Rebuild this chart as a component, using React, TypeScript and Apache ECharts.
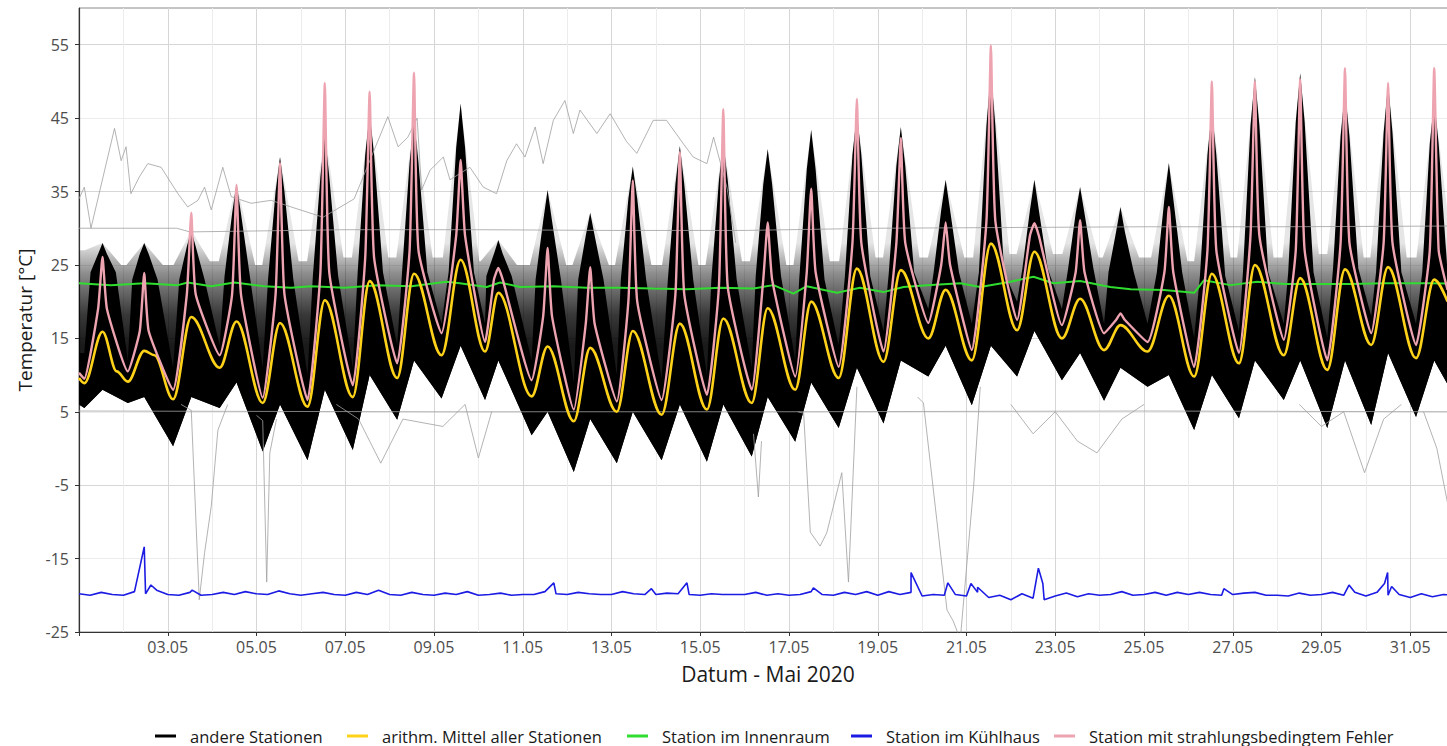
import React, { useEffect, useRef } from 'react';
import * as echarts from 'echarts';

// x = days since 01.05.2020 00:00
const peakTimes = [0.53, 1.47, 2.53, 3.55, 4.53, 5.54, 6.55, 7.55, 8.6, 9.45, 10.56, 11.52, 12.48, 13.54, 14.52, 15.52, 16.5, 17.53, 18.52, 19.53, 20.55, 21.53, 22.56, 23.47, 24.56, 25.53, 26.5, 27.52, 28.53, 29.5, 30.54];
const lowTimes = [0.12, 1.1, 2.12, 3.17, 4.14, 5.15, 6.17, 7.17, 8.17, 9.15, 10.2, 11.15, 12.12, 13.13, 14.15, 15.16, 16.14, 17.12, 18.13, 19.14, 20.12, 21.14, 22.15, 23.1, 24.08, 25.13, 26.14, 27.15, 28.13, 29.12, 30.13];

// arithm. Mittel
const meanLow = [8.9, 9.1, 6.7, 11.0, 6.2, 5.7, 7.0, 9.6, 12.7, 13.2, 7.1, 3.7, 5.0, 4.6, 5.3, 6.2, 8.0, 9.6, 11.8, 15.0, 12.0, 16.1, 15.0, 13.4, 13.2, 9.8, 11.6, 12.7, 10.7, 14.1, 12.3];
const meanPeak = [15.9, 13.3, 17.9, 17.3, 17.1, 20.2, 22.8, 23.8, 25.7, 21.2, 13.9, 13.7, 16.0, 17.0, 17.7, 19.1, 20.0, 24.5, 24.3, 21.6, 27.9, 26.8, 20.4, 16.8, 20.8, 23.8, 25.0, 23.2, 24.4, 24.7, 23.0];
const meanExtra = [[0, 9.6], [0.85, 10.5], [1.7, 12.7], [30.84, 20.0]];

// Station mit strahlungsbedingtem Fehler
const errLow = [9.5, 10.5, 8.0, 12.7, 6.9, 6.6, 8.6, 11.6, 15.7, 14.5, 9.3, 5.3, 6.4, 6.6, 7.3, 8.0, 9.8, 11.1, 13.2, 17.1, 13.4, 17.5, 16.8, 15.7, 14.5, 11.1, 13.0, 14.8, 12.0, 15.7, 14.1];
const errShoulder = [19, 16, 21, 21, 21, 24, 26, 27, 29, 23, 18, 17, 20, 21, 22, 23, 24, 28, 28, 25, 31, 29, 24, 17.5, 24, 27, 29, 27, 28, 28, 27];
const errPeak = [26.1, 23.9, 32.1, 35.9, 38.9, 49.8, 48.6, 51.2, 39.3, 24.6, 27.3, 24.7, 36.5, 40.4, 46.2, 30.8, 35.4, 47.6, 42.3, 30.8, 54.9, 30.7, 31.1, 18.4, 32.9, 50.0, 50.0, 50.3, 51.8, 49.8, 51.8];
const errEnds = [[0, 10.3], [30.84, 21.6]];

// andere Stationen: envelope of the dense bundle
const bandPeak = [28.0, 28.0, 29.7, 36.1, 39.7, 42.9, 45.6, 44.7, 47.0, 28.4, 35.2, 32.1, 38.4, 41.2, 41.7, 40.8, 43.4, 45.6, 43.8, 36.6, 51.3, 36.6, 35.6, 32.9, 38.9, 46.1, 50.6, 51.1, 48.8, 49.7, 47.4];
const bandMid = [26.5, 26.5, 27.5, 32, 35, 37, 40, 39, 41, 26.5, 31, 29, 34, 36, 36.5, 36, 38, 40, 38.5, 32.5, 44, 32.5, 32, 29.5, 34, 40, 44, 44.5, 42.5, 43, 41.5];
const bandNightTop = [27, 25, 25, 25.5, 25, 25.5, 26, 26, 26, 25.5, 25, 25, 25, 25, 25, 25.5, 25, 25.5, 26, 26, 26, 26.5, 26.5, 26, 26, 25.5, 26, 26, 26.5, 26, 26, 26];
const coreShoulder = [24, 23, 23, 23.5, 23, 23.5, 24, 24, 24, 23.5, 23, 23, 23, 23, 23, 23.5, 23, 23.5, 24, 24, 24, 24.5, 24.5, 24, 24, 23.5, 24, 24, 24.5, 24, 24];
const coreNightTop = [13, 12, 11, 14, 11, 10, 11, 14, 17, 17, 12, 9, 10, 9.5, 10, 11, 12, 14, 16, 19, 17, 20, 19, 17, 17, 15, 16, 17, 15, 18, 17, 17];
const bandLow = [5.5, 6.2, 0.3, 5.5, -0.4, -1.6, -0.2, 3.9, 6.8, 6.6, 1.8, -3.2, -2.0, -1.6, -1.8, -1.1, 0.9, 2.8, 3.4, 9.8, 5.9, 9.8, 9.3, 6.5, 8.4, 2.5, 4.1, 6.6, 2.8, 3.2, 4.3];
const bandAfternoonLow = [8, 7, 7, 9, 6, 8, 10, 12, 14, 12, 5, 4, 5, 6, 6, 7, 9, 11, 12, 14, 14, 16, 13, 11, 10, 10, 12, 12, 12, 13, 12];
const bandStart = [27, 13, 6];
const bandEnd = [26, 17, 7];

// single outlying stations (andere Stationen)
const flat5T = [0, 8, 16, 24, 31];
const flat5V = [5.1, 5.0, 5.0, 5.1, 5.0];
const flat30T = [0, 2.2, 2.5, 6, 9, 12, 15, 18, 21, 24, 27, 31];
const flat30V = [30.0, 30.0, 29.5, 29.8, 29.8, 29.7, 29.7, 30.0, 30.1, 30.2, 30.2, 30.3];
const highT = [0, 0.12, 0.27, 0.8, 0.95, 1.06, 1.17, 1.36, 1.55, 1.85, 2.23, 2.45, 2.68, 2.83, 2.98, 3.24, 3.43, 3.88, 4.33, 4.78, 5.5, 6.2, 6.96, 7.19, 7.41, 7.62, 7.72, 7.91, 8.21, 8.36, 8.81, 9.11, 9.41, 9.64, 9.86, 10.05, 10.28, 10.46, 10.69, 10.95, 11.14, 11.29, 11.67, 11.97, 12.34, 12.57, 12.94, 13.24, 13.62, 13.84, 14.15, 14.3, 14.6, 14.8];
const highV = [34.0, 35.6, 30.0, 43.6, 39.2, 41.1, 34.7, 37.0, 38.8, 38.3, 34.7, 32.9, 33.8, 35.6, 32.5, 38.3, 34.3, 33.4, 33.8, 32.9, 31.5, 34.0, 45.2, 41.1, 42.4, 45.0, 35.2, 37.9, 39.7, 36.6, 38.3, 35.6, 34.7, 39.2, 41.5, 39.7, 43.8, 38.8, 44.7, 47.4, 42.9, 46.1, 42.9, 45.6, 41.8, 40.2, 44.7, 44.7, 41.5, 39.7, 38.8, 42.4, 35.6, 28.0];
const drop1T = [2.3, 2.53, 2.71, 2.83, 2.98, 3.13, 3.35];
const drop1V = [6.0, 5.2, -20.6, -14.2, -7.9, 2.5, 6.0];
const drop2T = [4.0, 4.14, 4.23, 4.3, 4.45];
const drop2V = [4.5, 3.8, -18.2, -0.6, 4.0];
const drop3T = [15.2, 15.31, 15.38];
const drop3V = [2.0, -6.6, 1.0];
const drop4T = [16.2, 16.33, 16.48, 16.7, 16.85, 17.19, 17.34, 17.53];
const drop4V = [5.0, 4.8, -11.4, -13.3, -11.5, -3.3, -18.2, 8.4];
const drop5T = [18.9, 19.03, 19.33, 19.56, 19.7, 19.86, 20.16, 20.31];
const drop5V = [7.0, 6.2, -9.7, -22.0, -23.5, -26.0, -5.2, 8.4];
const wave1T = [5.8, 6.3, 6.8, 7.3, 8.2, 8.7, 9.0, 9.3];
const wave1V = [6, 4, -2, 4, 3, 6, -1.3, 5];
const wave2T = [27.5, 28.0, 28.5, 28.97, 29.4, 29.8];
const wave2V = [6, 3, 5, -3.3, 4, 6];
const wave3T = [30.3, 30.6, 30.84];
const wave3V = [5, 0, -7.4];
const wave4T = [21.0, 21.5, 22.0, 22.5, 22.94, 23.5, 24.0];
const wave4V = [6, 2, 5, 1, -0.6, 4, 6];

// Station im Innenraum
const indoorT = [0, 0.72, 1.47, 2.23, 2.45, 2.98, 3.5, 4.18, 4.78, 5.23, 5.98, 6.73, 7.49, 8.28, 8.58, 9.19, 9.49, 9.94, 10.69, 11.44, 12.19, 12.94, 13.7, 14.45, 15.2, 15.65, 16.1, 16.4, 17.08, 17.6, 18.13, 18.58, 19.11, 19.86, 20.31, 20.99, 21.51, 21.96, 22.56, 23.24, 23.7, 24.45, 25.13, 25.35, 25.95, 26.55, 27.16, 27.76, 28.66, 29.41, 30.46, 31];
const indoorV = [22.5, 22.25, 22.5, 22.25, 22.6, 22.1, 22.6, 22.1, 21.9, 22.1, 21.9, 22.25, 22.1, 22.7, 22.5, 22.0, 22.6, 22.0, 22.1, 21.9, 21.9, 21.8, 21.7, 21.9, 21.8, 22.25, 21.1, 22.1, 21.2, 21.9, 21.3, 22.0, 22.25, 22.5, 22.0, 22.7, 23.4, 22.5, 22.8, 22.0, 21.7, 21.6, 21.2, 22.9, 22.25, 22.7, 22.4, 22.4, 22.4, 22.5, 22.5, 22.45];

// Station im Kühlhaus: every 6 h, plus spikes
const coldBase = [
  -19.8, -20.0, -19.6, -19.9, -20.0, -19.5, -19.8, -19.3, -19.9, -20.0, -19.6, -20.0, -19.9, -19.6, -19.9, -19.5,
  -19.8, -19.9, -19.4, -19.8, -20.0, -19.8, -19.6, -19.9, -20.0, -19.6, -19.9, -19.3, -19.9, -20.0, -19.6, -19.9,
  -20.0, -19.7, -19.9, -19.5, -20.0, -19.9, -19.7, -20.0, -19.9, -19.9, -19.5, -19.8, -19.9, -19.6, -19.8, -19.9,
  -19.9, -19.5, -19.8, -19.9, -19.9, -19.7, -19.8, -19.9, -20.0, -19.8, -19.9, -19.9, -19.9, -19.6, -20.0, -19.8,
  -20.0, -19.9, -19.5, -19.9, -20.0, -19.6, -19.9, -19.5, -20.0, -19.5, -19.9, -19.6, -20.1, -19.9, -20.0, -19.9,
  -20.1, -19.6, -20.3, -20.0, -20.6, -19.8, -20.4, -20.6, -20.1, -19.7, -20.2, -19.8, -20.0, -19.9, -19.5, -20.0,
  -19.9, -19.6, -20.0, -19.6, -19.9, -19.6, -19.9, -20.0, -19.9, -19.7, -19.6, -20.0, -20.0, -20.1, -19.7, -20.0,
  -19.9, -19.6, -20.0, -19.6, -20.1, -19.6, -20.0, -19.9, -20.3, -19.8, -20.2, -19.9, -20.0
];
const coldSpikes = [[1.47, -13.4], [1.62, -18.6], [2.55, -19.3], [10.7, -18.3], [12.9, -19.1], [13.7, -18.3], [16.55, -19.0], [18.75, -16.9], [19.58, -18.3], [20.1, -18.4], [20.25, -18.9], [21.62, -16.3], [21.72, -18.4], [25.8, -19.1], [28.62, -18.6], [29.42, -18.4], [29.49, -16.9], [29.58, -18.8]];

const xTickLabels = ['', '03.05', '05.05', '07.05', '09.05', '11.05', '13.05', '15.05', '17.05', '19.05', '21.05', '23.05', '25.05', '27.05', '29.05', '31.05'];
const yTickValues = [-25, -15, -5, 5, 15, 25, 35, 45, 55];

const NAMES = ['andere Stationen', 'arithm. Mittel aller Stationen', 'Station im Innenraum', 'Station im Kühlhaus', 'Station mit strahlungsbedingtem Fehler'];
const COLORS = ['#000000', '#FFD21A', '#2FDC2F', '#1B1BE3', '#EEA3B1'];
const LEGEND_LEFT = [155, 347, 627, 851, 1054];
const FONT = 'Open Sans';

const pairs = (t: number[], v: number[]) => t.map((x, i) => [x, v[i]]);
const byT = (a: number[], b: number[]) => a[0] - b[0];

export default function App() {
  const ref = useRef<HTMLDivElement>(null);
  useEffect(() => {
    document.body.style.margin = '0';
    const chart = echarts.init(ref.current!, null, { renderer: 'svg' });

    const meanData = [...pairs(lowTimes, meanLow), ...pairs(peakTimes, meanPeak), ...meanExtra].sort(byT);
    const errData: number[][] = [...errEnds];
    peakTimes.forEach((t, d) => {
      errData.push([lowTimes[d], errLow[d]], [t - 0.1, errShoulder[d]], [t, errPeak[d]], [t + 0.1, errShoulder[d]]);
    });
    errData.sort(byT);
    const coldData = [...coldBase.map((v, i) => [i * 0.25, v]), ...coldSpikes].sort(byT);

    const outerUpper: number[][] = [[0, bandStart[0]]];
    const coreUpper: number[][] = [[0, bandStart[1]]];
    peakTimes.forEach((t, d) => {
      outerUpper.push([t - 0.4, bandNightTop[d]], [t, bandPeak[d]], [t + 0.42, bandNightTop[d + 1]]);
      coreUpper.push(
        [lowTimes[d], coreNightTop[d]], [t - 0.27, coreShoulder[d]], [t - 0.1, bandMid[d]], [t, bandPeak[d]],
        [t + 0.1, bandMid[d]], [t + 0.3, coreShoulder[d]],
      );
    });
    outerUpper.push([31, bandEnd[0]]);
    coreUpper.push([31, bandEnd[1]]);
    const lower: number[][] = [[0, bandStart[2]]];
    peakTimes.forEach((t, d) => {
      lower.push([lowTimes[d], bandLow[d]], [t, bandAfternoonLow[d]]);
    });
    lower.push([31, bandEnd[2]]);
    const outerPoly = [...outerUpper, ...lower.slice().reverse()];
    const corePoly = [...coreUpper, ...lower.slice().reverse()];

    const grayLines = [
      [flat5T, flat5V], [flat30T, flat30V], [highT, highV], [drop1T, drop1V], [drop2T, drop2V], [drop3T, drop3V],
      [drop4T, drop4V], [drop5T, drop5V], [wave1T, wave1V], [wave2T, wave2V], [wave3T, wave3V], [wave4T, wave4V],
    ];

    const series: any[] = grayLines.map(([t, v]) => ({
      name: NAMES[0], type: 'line', data: pairs(t as number[], v as number[]), showSymbol: false, symbol: 'none',
      lineStyle: { color: '#a0a0a0', width: 0.8 }, silent: true,
    }));

    series.push({
      name: NAMES[0], type: 'custom', silent: true, data: [[15, 10]],
      renderItem: (_p: any, api: any) => {
        const yTop = api.coord([0, 28])[1];
        const yBot = api.coord([0, 14])[1];
        return {
          type: 'group',
          children: [
            {
              type: 'polygon',
              shape: { points: outerPoly.map((p) => api.coord(p)) },
              style: {
                fill: new echarts.graphic.LinearGradient(0, yTop, 0, yBot, [
                  { offset: 0, color: 'rgba(0,0,0,0.1)' },
                  { offset: 0.3, color: 'rgba(0,0,0,0.45)' },
                  { offset: 0.7, color: 'rgba(0,0,0,0.78)' },
                  { offset: 1, color: 'rgba(0,0,0,0.9)' },
                ], true),
              },
            },
            {
              type: 'polygon',
              shape: { points: corePoly.map((p) => api.coord(p)) },
              style: { fill: '#000000' },
            },
          ],
        };
      },
    });

    series.push(
      { name: NAMES[2], type: 'line', data: pairs(indoorT, indoorV), showSymbol: false, symbol: 'none', lineStyle: { color: COLORS[2], width: 2 } },
      { name: NAMES[3], type: 'line', data: coldData, showSymbol: false, symbol: 'none', lineStyle: { color: COLORS[3], width: 1.6 } },
      { name: NAMES[1], type: 'line', data: meanData, showSymbol: false, symbol: 'none', smooth: 0.35, smoothMonotone: 'x', lineStyle: { color: COLORS[1], width: 2.6 } },
      { name: NAMES[4], type: 'line', data: errData, showSymbol: false, symbol: 'none', smooth: 0.15, lineStyle: { color: COLORS[4], width: 2.4 } },
    );

    const option: any = {
      animation: false,
      backgroundColor: '#ffffff',
      textStyle: { fontFamily: FONT },
      grid: {
        left: 79, right: -52, top: 8, bottom: 114, show: true, borderColor: '#8a8a8a', borderWidth: 1,
        containLabel: false, outerBoundsMode: 'none',
      },
      legend: NAMES.map((n, i) => ({
        left: LEGEND_LEFT[i], top: 727, padding: 0, icon: 'rect', itemWidth: 21, itemHeight: 3, selectedMode: false,
        textStyle: { fontSize: 16.5, lineHeight: 18, color: '#1a1a1a', fontFamily: FONT, padding: [0, 0, 0, 9] },
        data: [{ name: n, icon: 'rect', itemStyle: { color: COLORS[i] } }],
      })),
      xAxis: {
        type: 'value', min: 0, max: 32, interval: 2,
        axisLine: { show: true, onZero: false, lineStyle: { color: '#333333', width: 1.2 } },
        axisTick: { show: true, length: 4, lineStyle: { color: '#333333' } },
        axisLabel: {
          formatter: (v: number) => xTickLabels[v / 2] ?? '', color: '#4d4d4d', fontSize: 16, fontFamily: FONT, margin: 7,
        },
        splitLine: { show: true, lineStyle: { color: '#d6d6d6', width: 1 } },
        minorTick: { show: false, splitNumber: 2 },
        minorSplitLine: { show: true, lineStyle: { color: '#ececec', width: 1 } },
      },
      yAxis: {
        type: 'value', min: -25, max: 60, interval: 5,
        axisLine: { show: true, onZero: false, lineStyle: { color: '#333333', width: 1.2 } },
        axisTick: { show: true, length: 4, customValues: yTickValues, lineStyle: { color: '#333333' } },
        axisLabel: {
          formatter: (v: number) => (yTickValues.includes(v) ? String(v) : ''), color: '#4d4d4d', fontSize: 16, fontFamily: FONT, margin: 10,
        },
        splitLine: { show: true, lineStyle: { color: ['#d6d6d6', '#ececec'], width: 1 } },
        name: 'Temperatur [°C]', nameLocation: 'middle', nameGap: 40,
        nameTextStyle: { fontSize: 19, color: '#1a1a1a', fontFamily: FONT },
      },
      graphic: [
        {
          type: 'text', x: 768, y: 674,
          style: { text: 'Datum - Mai 2020', fontSize: 21, fontFamily: FONT, fill: '#1a1a1a', align: 'center', verticalAlign: 'middle' },
        },
      ],
      series,
    };
    chart.setOption(option);
    return () => chart.dispose();
  }, []);
  return <div ref={ref} style={{ width: 1447, height: 746 }} />;
}
